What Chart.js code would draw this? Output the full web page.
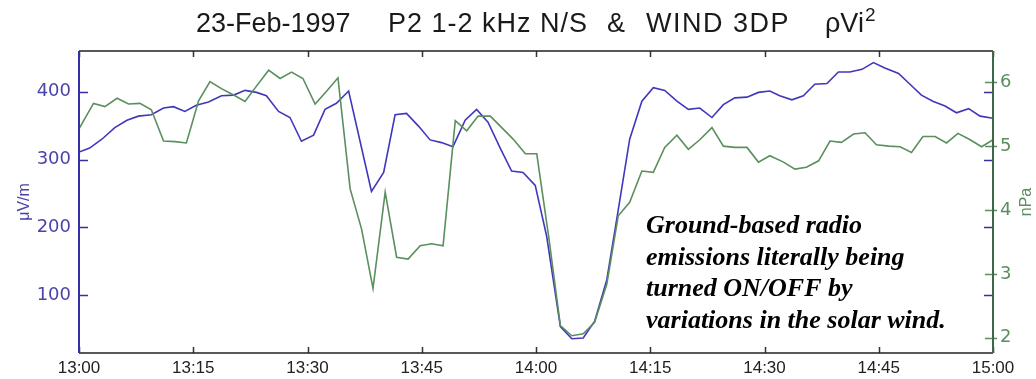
<!DOCTYPE html>
<html>
<head>
<meta charset="utf-8">
<script src="https://cdn.jsdelivr.net/npm/chart.js@4"></script>
<style>
  body { margin: 0; background: #fff; }
  #wrap { width: 1036px; height: 379px; position: relative; }
</style>
</head>
<body>
<div id="wrap"><canvas id="chart"></canvas></div>
<script>
// minutes after 13:00 for each sample
const fieldTimes = [0, 1.4, 3.0, 4.7, 6.3, 7.8, 9.5, 11.1, 12.4, 13.9, 15.4, 17.0, 18.7, 20.3, 21.8, 23.3, 24.6, 26.2, 27.7, 29.2,
  30.8, 32.3, 33.8, 35.4, 36.9, 38.4, 40.0, 41.5, 43.0, 44.6, 46.1, 47.6, 49.1, 50.7, 52.2, 53.7, 55.3, 56.8, 58.3, 59.9,
  61.4, 63.2, 64.7, 66.2, 67.7, 69.3, 70.8, 72.3, 73.9, 75.4, 76.9, 78.5, 80.0, 81.5, 83.1, 84.6, 86.1, 87.7, 89.2, 90.7,
  92.0, 93.6, 95.1, 96.6, 98.2, 99.7, 101.2, 102.8, 104.3, 105.8, 107.6, 109.1, 110.6, 112.1, 113.7, 115.2, 116.8, 118.3, 120.0];
// P2 1-2 kHz N/S, uV/m
const fieldValues = [311, 317, 330, 347, 358, 364, 366, 376, 378, 371, 380, 385, 394, 395, 402, 399, 394, 371, 362, 327,
  336, 374, 383, 401, 327, 253, 281, 366, 368, 349, 329, 325, 319, 358, 374, 355, 317, 283, 281, 262,
  187, 54, 36, 37, 62, 123, 226, 330, 386, 406, 402, 386, 374, 376, 362, 381, 391, 392, 399, 401,
  394, 388, 394, 411, 412, 429, 429, 433, 443, 435, 427, 411, 395, 386, 379, 369, 375, 364, 361];

const windTimes = [0, 1.9, 3.4, 5.0, 6.5, 8.0, 9.5, 11.1, 12.6, 14.1, 15.7, 17.2, 18.7, 20.3, 21.8, 23.3, 24.9, 26.4, 27.9, 29.4,
  31.0, 32.5, 34.0, 35.6, 37.1, 38.6, 40.2, 41.7, 43.2, 44.8, 46.3, 47.8, 49.4, 50.9, 52.4, 54.0, 55.5, 57.0, 58.6, 60.1,
  61.7, 63.2, 64.7, 66.2, 67.7, 69.3, 70.8, 72.3, 73.9, 75.4, 76.9, 78.5, 80.0, 81.5, 83.1, 84.6, 86.1, 87.7, 89.2, 90.7,
  92.5, 94.0, 95.5, 97.1, 98.6, 100.1, 101.7, 103.2, 104.7, 106.3, 107.8, 109.3, 110.8, 112.4, 113.9, 115.4, 117.0, 118.5, 120.0];
// WIND 3DP rho*V^2, nPa
const windValues = [5.27, 5.67, 5.62, 5.75, 5.66, 5.67, 5.57, 5.08, 5.07, 5.05, 5.71, 6.01, 5.90, 5.80, 5.70, 5.94, 6.19, 6.06, 6.16, 6.06,
  5.66, 5.86, 6.07, 4.33, 3.70, 2.77, 4.28, 3.26, 3.23, 3.44, 3.47, 3.44, 5.40, 5.24, 5.47, 5.47, 5.29, 5.11, 4.88, 4.88,
  3.55, 2.19, 2.03, 2.06, 2.24, 2.84, 3.91, 4.12, 4.61, 4.59, 4.98, 5.17, 4.95, 5.10, 5.29, 5.00, 4.98, 4.98, 4.75, 4.85,
  4.75, 4.64, 4.67, 4.77, 5.08, 5.06, 5.19, 5.21, 5.02, 5.00, 4.99, 4.90, 5.15, 5.15, 5.05, 5.20, 5.10, 4.99, 5.10];

const xTickValues = [0, 15, 30, 45, 60, 75, 90, 105, 120];
const xTickLabels = ["13:00", "13:15", "13:30", "13:45", "14:00", "14:15", "14:30", "14:45", "15:00"];
const leftTicks = [100, 200, 300, 400];
const rightTicks = [2, 3, 4, 5, 6];

// title pieces, spaced out like the original plot header
const titleParts = ["23-Feb-1997", "P2 1-2 kHz N/S", "&", "WIND 3DP", "\u03C1Vi"];
const titleX = [196, 388, 607, 646, 825];
const titleSpacing = ["0px", "1px", "0px", "1.5px", "0px"];
const noteLines = [
  "Ground-based radio",
  "emissions literally being",
  "turned ON/OFF by",
  "variations in the solar wind."
];

const BLUE = "#4137bc";
const BLUE_AXIS = "#3530a4";
const BLUE_TEXT = "#4a44aa";
const GREEN = "#5a8f5e";
const GREEN_AXIS = "#3f6848";
const SANS = "'Liberation Sans', Arial, sans-serif";

const pairs = (xs, ys) => xs.map((x, i) => ({ x: x, y: ys[i] }));

const decorations = {
  id: "decorations",
  afterDatasetsDraw(chart) {
    const { ctx, chartArea: a, scales } = chart;
    const yL = scales.yL, yR = scales.yR, x = scales.x;
    ctx.save();
    ctx.lineWidth = 1.5;

    // x ticks, pointing in, top and bottom
    ctx.strokeStyle = "#333";
    xTickValues.forEach(v => {
      const px = Math.round(x.getPixelForValue(v)) + 0.5;
      ctx.beginPath();
      ctx.moveTo(px, a.bottom); ctx.lineTo(px, a.bottom - 6);
      ctx.moveTo(px, a.top); ctx.lineTo(px, a.top + 6);
      ctx.stroke();
    });

    // left axis ticks, also mirrored on the right edge
    ctx.strokeStyle = BLUE_AXIS;
    leftTicks.forEach(v => {
      const py = Math.round(yL.getPixelForValue(v)) + 0.5;
      ctx.beginPath();
      ctx.moveTo(a.left, py); ctx.lineTo(a.left + 9, py);
      ctx.moveTo(a.right, py); ctx.lineTo(a.right - 9, py);
      ctx.stroke();
    });

    ctx.strokeStyle = GREEN;
    rightTicks.forEach(v => {
      const py = Math.round(yR.getPixelForValue(v)) + 0.5;
      ctx.beginPath();
      ctx.moveTo(a.right - 8, py); ctx.lineTo(a.right + 4, py);
      ctx.stroke();
    });

    // frame
    ctx.strokeStyle = "#222";
    ctx.beginPath();
    ctx.moveTo(a.left, a.top); ctx.lineTo(a.right, a.top);
    ctx.moveTo(a.left, a.bottom); ctx.lineTo(a.right, a.bottom);
    ctx.stroke();
    ctx.lineWidth = 2;
    ctx.strokeStyle = BLUE_AXIS;
    ctx.beginPath();
    ctx.moveTo(a.left, a.top); ctx.lineTo(a.left, a.bottom);
    ctx.stroke();
    ctx.strokeStyle = GREEN_AXIS;
    ctx.beginPath();
    ctx.moveTo(a.right, a.top); ctx.lineTo(a.right, a.bottom);
    ctx.stroke();

    // title
    ctx.fillStyle = "#1a1a1a";
    ctx.font = "27px " + SANS;
    ctx.textAlign = "left";
    ctx.textBaseline = "alphabetic";
    titleParts.forEach((t, i) => {
      ctx.letterSpacing = titleSpacing[i];
      ctx.fillText(t, titleX[i], 32);
    });
    ctx.letterSpacing = "0px";
    const endX = titleX[titleX.length - 1] + ctx.measureText(titleParts[titleParts.length - 1]).width;
    ctx.font = "19px " + SANS;
    ctx.fillText("2", endX + 1, 21);

    // right axis title, reads bottom to top
    ctx.save();
    ctx.translate(1027, (a.top + a.bottom) / 2);
    ctx.rotate(-Math.PI / 2);
    ctx.fillStyle = GREEN;
    ctx.textAlign = "center";
    ctx.font = "16px " + SANS;
    ctx.textBaseline = "middle";
    ctx.fillText("nPa", 0, 0);
    ctx.restore();

    // annotation
    ctx.fillStyle = "#000";
    ctx.textAlign = "left";
    ctx.font = "italic bold 26px 'Liberation Serif', 'Times New Roman', serif";
    noteLines.forEach((line, i) => {
      ctx.fillText(line, 646, 233 + i * 31.7);
    });
    ctx.restore();
  }
};

new Chart(document.getElementById("chart"), {
  type: "line",
  data: {
    datasets: [
      {
        label: "WIND 3DP",
        data: pairs(windTimes, windValues),
        yAxisID: "yR",
        borderColor: GREEN,
        borderWidth: 1.6,
        pointRadius: 0,
        tension: 0
      },
      {
        label: "P2 1-2 kHz",
        data: pairs(fieldTimes, fieldValues),
        yAxisID: "yL",
        borderColor: BLUE,
        borderWidth: 1.6,
        pointRadius: 0,
        tension: 0
      }
    ]
  },
  options: {
    responsive: true,
    maintainAspectRatio: false,
    animation: false,
    layout: { padding: { top: 51, left: 0, right: 0, bottom: 0 } },
    plugins: {
      legend: { display: false },
      title: { display: false },
      tooltip: { enabled: false }
    },
    scales: {
      x: {
        type: "linear",
        min: 0,
        max: 120,
        grid: { display: false, drawTicks: false },
        border: { display: false },
        afterBuildTicks: s => { s.ticks = xTickValues.map(v => ({ value: v })); },
        afterFit: s => { s.height = 26; },
        ticks: {
          autoSkip: false,
          maxRotation: 0,
          padding: 5,
          color: "#222",
          font: { family: SANS, size: 17 },
          callback: (v, i) => xTickLabels[i]
        }
      },
      yL: {
        type: "linear",
        position: "left",
        min: 15,
        max: 460,
        grid: { display: false, drawTicks: false },
        border: { display: false },
        afterBuildTicks: s => { s.ticks = leftTicks.map(v => ({ value: v })); },
        afterFit: s => { s.width = 79; },
        ticks: {
          padding: 8,
          color: BLUE_TEXT,
          font: { family: "'DejaVu Sans', sans-serif", size: 18 }
        },
        title: {
          display: true,
          text: "\u03BCV/m",
          color: BLUE_TEXT,
          padding: { top: 15, bottom: 0 },
          font: { family: SANS, size: 16 }
        }
      },
      yR: {
        type: "linear",
        position: "right",
        min: 1.76,
        max: 6.49,
        grid: { display: false, drawTicks: false },
        border: { display: false },
        afterBuildTicks: s => { s.ticks = rightTicks.map(v => ({ value: v })); },
        afterFit: s => { s.width = 43; },
        ticks: {
          padding: 7,
          color: GREEN,
          font: { family: "'DejaVu Sans', sans-serif", size: 18 }
        }
      }
    }
  },
  plugins: [decorations]
});
</script>
</body>
</html>
